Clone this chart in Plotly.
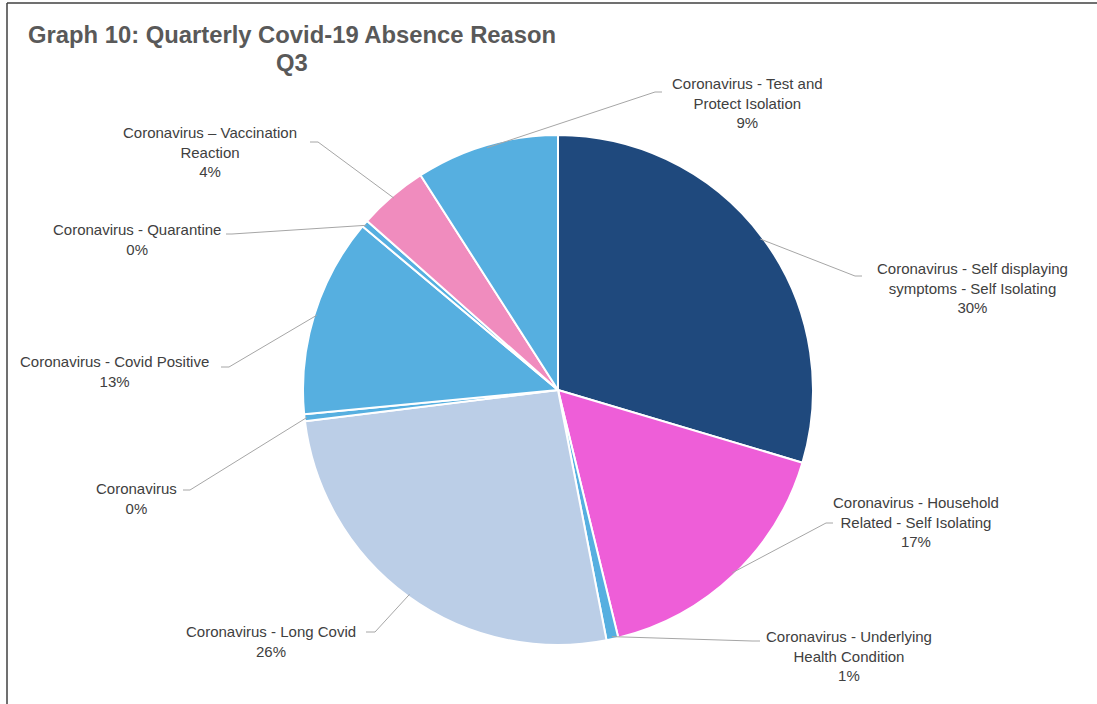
import math
import plotly.graph_objects as go

W, H = 1097, 704

labels = [
    "Coronavirus - Self displaying symptoms - Self Isolating",
    "Coronavirus - Household Related - Self Isolating",
    "Coronavirus - Underlying Health Condition",
    "Coronavirus - Long Covid",
    "Coronavirus",
    "Coronavirus - Covid Positive",
    "Coronavirus - Quarantine",
    "Coronavirus – Vaccination Reaction",
    "Coronavirus - Test and Protect Isolation",
]
label_text = [
    "Coronavirus - Self displaying<br>symptoms - Self Isolating",
    "Coronavirus - Household<br>Related - Self Isolating",
    "Coronavirus - Underlying<br>Health Condition",
    "Coronavirus - Long Covid",
    "Coronavirus",
    "Coronavirus - Covid Positive",
    "Coronavirus - Quarantine",
    "Coronavirus – Vaccination<br>Reaction",
    "Coronavirus - Test and<br>Protect Isolation",
]
values = [29.6, 16.6, 0.75, 26.1, 0.44, 12.6, 0.45, 4.4, 9.06]
colors = ["#1F497D", "#EE5ED8", "#56AFE0", "#BBCEE7", "#56AFE0",
          "#56AFE0", "#56AFE0", "#F08CBE", "#56AFE0"]
title_lines = ["Graph 10: Quarterly Covid-19 Absence Reason", "Q3"]

# label layout (pixel space): text center, line elbow, line end
label_center = [(972, 288), (916, 522), (849, 656), (271, 641), (136, 498),
                (114, 371), (137, 239), (210, 152), (747, 103)]
elbow = [(855, 276), (826, 523), (752, 641), (375, 632), (190, 490),
         (229, 367), (232, 234), (318, 142), (655, 92)]
line_end = [(862, 276), (833, 523), (760, 641), (366, 632), (183, 490),
            (221, 367), (226, 234), (310, 142), (662, 92)]

CX, CY, R = 558, 390, 255

fig = go.Figure(go.Pie(
    labels=labels, values=values, sort=False, direction="clockwise", rotation=0,
    marker=dict(colors=colors, line=dict(color="white", width=2)),
    textinfo="none", hoverinfo="label+percent", showlegend=False,
    domain=dict(x=[(CX - R) / W, (CX + R) / W], y=[(H - CY - R) / H, (H - CY + R) / H]),
))

def px(x, y):
    return x / W, 1 - y / H

total = sum(values)
shapes = []
annotations = []
cum = 0.0
for i, v in enumerate(values):
    mid = (cum + v / 2) / total * 2 * math.pi
    cum += v
    sx = CX + R * 0.99 * math.sin(mid)
    sy = CY - R * 0.99 * math.cos(mid)
    pts = [px(sx, sy), px(*elbow[i]), px(*line_end[i])]
    path = "M {} {} L {} {} L {} {}".format(*[c for p in pts for c in p])
    shapes.append(dict(type="path", xref="paper", yref="paper", path=path,
                       line=dict(color="#A6A6A6", width=1)))
    pct = round(v / total * 100)
    lx, ly = px(*label_center[i])
    annotations.append(dict(x=lx, y=ly, xref="paper", yref="paper", showarrow=False,
                            text=f"{label_text[i]}<br>{pct}%", align="center",
                            xanchor="center", yanchor="middle",
                            font=dict(family="Liberation Sans, Arial", size=15, color="#404040")))

for t, ty in zip(title_lines, [35, 62]):
    annotations.append(dict(x=292 / W, y=1 - ty / H, xref="paper", yref="paper", showarrow=False,
                            text=f"<b>{t}</b>", xanchor="center", yanchor="middle",
                            font=dict(family="Liberation Sans, Arial", size=23.8, color="#595959")))

# chart frame (left and top edges)
shapes.append(dict(type="line", xref="paper", yref="paper", x0=7 / W, x1=7 / W, y0=0, y1=1 - 3 / H,
                   line=dict(color="#404040", width=1.5)))
shapes.append(dict(type="line", xref="paper", yref="paper", x0=7 / W, x1=1, y0=1 - 3 / H, y1=1 - 3 / H,
                   line=dict(color="#404040", width=1.5)))

fig.update_layout(width=W, height=H, margin=dict(l=0, r=0, t=0, b=0),
                  paper_bgcolor="white", plot_bgcolor="white",
                  shapes=shapes, annotations=annotations)
fig.write_html("out.html", config={"displayModeBar": False},
               post_script="document.body.style.margin='0';document.body.style.overflow='hidden';")
